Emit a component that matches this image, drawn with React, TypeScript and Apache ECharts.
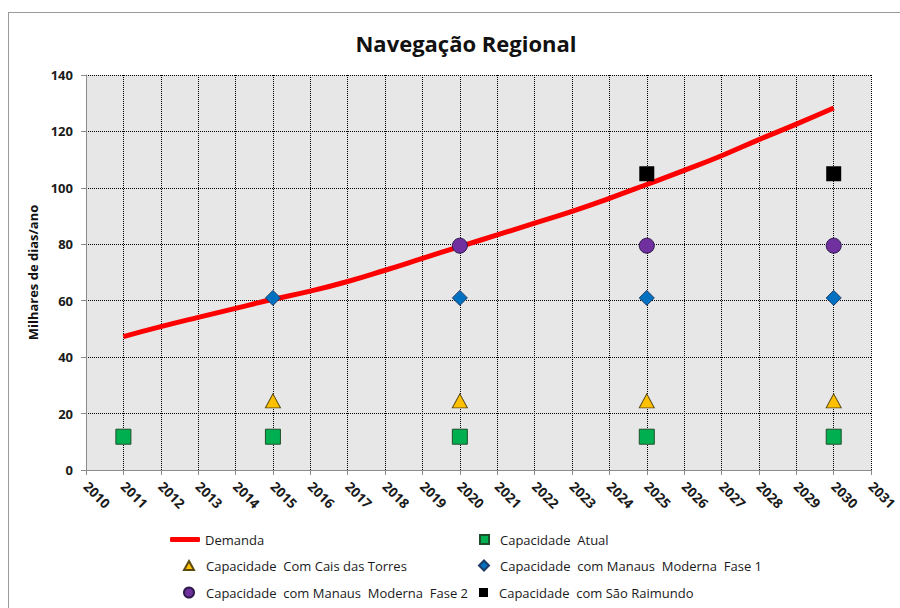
import React, { useEffect, useRef } from "react";
import * as echarts from "echarts";

const TITLE = "Navegação Regional";
const Y_NAME = "Milhares de dias/ano";

const demandYears = [2011, 2012, 2013, 2014, 2015, 2016, 2017, 2018, 2019, 2020, 2021, 2022, 2023, 2024, 2025, 2026, 2027, 2028, 2029, 2030];
const demand = [47.3, 50.8, 54.1, 57.3, 60.5, 63.4, 66.8, 70.8, 75.0, 79.2, 83.3, 87.5, 91.7, 96.3, 101.2, 106.2, 111.4, 117.1, 122.6, 128.3];

const atualYears = [2011, 2015, 2020, 2025, 2030];
const atualValues = [11.8, 11.8, 11.8, 11.8, 11.8];

const caisYears = [2015, 2020, 2025, 2030];
const caisValues = [24.5, 24.5, 24.5, 24.5];

const fase1Years = [2015, 2020, 2025, 2030];
const fase1Values = [61, 61, 61, 61];

const fase2Years = [2020, 2025, 2030];
const fase2Values = [79.5, 79.5, 79.5];

const raimundoYears = [2025, 2030];
const raimundoValues = [105, 105];

const NAMES = {
  demanda: "Demanda",
  atual: "Capacidade  Atual",
  cais: "Capacidade  Com Cais das Torres",
  fase1: "Capacidade  com Manaus  Moderna  Fase 1",
  fase2: "Capacidade  com Manaus  Moderna  Fase 2",
  raimundo: "Capacidade  com São Raimundo",
};

const pairs = (xs: number[], ys: number[]) => xs.map((x, i) => [x, ys[i]]);

const FONT = "'Open Sans', 'DejaVu Sans', sans-serif";

function mkLegend(name: string, left: number, top: number, w: number, h: number, padLeft: number, icon?: string) {
  return {
    data: [icon ? { name, icon } : { name }],
    left,
    top,
    padding: 0,
    itemWidth: w,
    itemHeight: h,
    selectedMode: false,
    textStyle: { fontFamily: FONT, fontSize: 13, color: "#1a1a1a", padding: [0, 0, 0, padLeft] },
  };
}

export default function App() {
  const ref = useRef<HTMLDivElement>(null);
  useEffect(() => {
    if (!ref.current) return;
    const chart = echarts.init(ref.current, null, { renderer: "svg" });
    const axisLabelStyle = { fontFamily: FONT, fontSize: 13, fontWeight: "bold", color: "#1a1a1a" };
    chart.setOption({
      animation: false,
      backgroundColor: "#ffffff",
      title: {
        text: TITLE,
        left: 461,
        top: 27,
        textAlign: "center",
        textStyle: { fontFamily: FONT, fontSize: 22, fontWeight: "bold", color: "#111" },
      },
      grid: {
        left: 86,
        right: 24,
        top: 75,
        bottom: 138,
        show: true,
        backgroundColor: "#e7e7e7",
        borderWidth: 0,
      },
      xAxis: {
        type: "value",
        min: 2010,
        max: 2031,
        interval: 1,
        axisLine: { show: true, onZero: false, lineStyle: { color: "#8a8a8a", width: 1 } },
        axisTick: { show: true, length: 5, lineStyle: { color: "#8a8a8a" } },
        axisLabel: { ...axisLabelStyle, fontSize: 13.5, rotate: -45, margin: 14, formatter: (v: number) => String(v) },
        splitLine: { show: true, lineStyle: { color: "#000", type: "dotted", width: 1 } },
      },
      yAxis: {
        type: "value",
        min: 0,
        max: 140,
        interval: 20,
        name: Y_NAME,
        nameLocation: "middle",
        nameGap: 46,
        nameTextStyle: { fontFamily: FONT, fontSize: 13, fontWeight: "bold", color: "#111" },
        axisLine: { show: true, lineStyle: { color: "#8a8a8a", width: 1 } },
        axisTick: { show: true, length: 5, lineStyle: { color: "#8a8a8a" } },
        axisLabel: { ...axisLabelStyle, margin: 13 },
        splitLine: { show: true, lineStyle: { color: "#000", type: "dotted", width: 1 } },
      },
      legend: [
        mkLegend(NAMES.demanda, 170, 533, 30, 5, 0, "roundRect"),
        mkLegend(NAMES.atual, 479, 533, 9, 9, 6),
        mkLegend(NAMES.cais, 183, 559, 10, 9, 7),
        mkLegend(NAMES.fase1, 478, 559, 10, 10, 6),
        mkLegend(NAMES.fase2, 183, 586, 10, 10, 7),
        mkLegend(NAMES.raimundo, 479, 586, 9, 9, 6),
      ],
      graphic: [
        { type: "line", shape: { x1: 8.5, y1: 12, x2: 8.5, y2: 608 }, style: { stroke: "#9a9a9a", lineWidth: 1 } },
        { type: "line", shape: { x1: 8, y1: 12.5, x2: 900, y2: 12.5 }, style: { stroke: "#9a9a9a", lineWidth: 1 } },
      ],
      series: [
        {
          name: NAMES.demanda,
          type: "line",
          smooth: 0.5,
          symbol: "none",
          z: 2,
          data: pairs(demandYears, demand),
          lineStyle: { color: "#ff0000", width: 5 },
          itemStyle: { color: "#ff0000" },
        },
        {
          name: NAMES.atual,
          type: "scatter",
          symbol: "rect",
          symbolSize: 15,
          z: 3,
          data: pairs(atualYears, atualValues),
          itemStyle: { color: "#00b050", borderColor: "#1f4f2a", borderWidth: 1, opacity: 1 },
        },
        {
          name: NAMES.cais,
          type: "scatter",
          symbol: "triangle",
          symbolSize: [15, 14],
          z: 3,
          data: pairs(caisYears, caisValues),
          itemStyle: { color: "#ffc000", borderColor: "#5a4a10", borderWidth: 1, opacity: 1 },
        },
        {
          name: NAMES.fase1,
          type: "scatter",
          symbol: "diamond",
          symbolSize: 15,
          z: 3,
          data: pairs(fase1Years, fase1Values),
          itemStyle: { color: "#0070c0", borderColor: "#1c3c66", borderWidth: 1, opacity: 1 },
        },
        {
          name: NAMES.fase2,
          type: "scatter",
          symbol: "circle",
          symbolSize: 15,
          z: 3,
          data: pairs(fase2Years, fase2Values),
          itemStyle: { color: "#7030a0", borderColor: "#2e1a4a", borderWidth: 1, opacity: 1 },
        },
        {
          name: NAMES.raimundo,
          type: "scatter",
          symbol: "rect",
          symbolSize: 15,
          z: 3,
          data: pairs(raimundoYears, raimundoValues),
          itemStyle: { color: "#000000", opacity: 1 },
        },
      ],
    });
    return () => chart.dispose();
  }, []);
  return (
    <div
      ref={ref}
      style={{ position: "absolute", left: 0, top: 0, width: 900, height: 608, background: "#fff" }}
    />
  );
}
